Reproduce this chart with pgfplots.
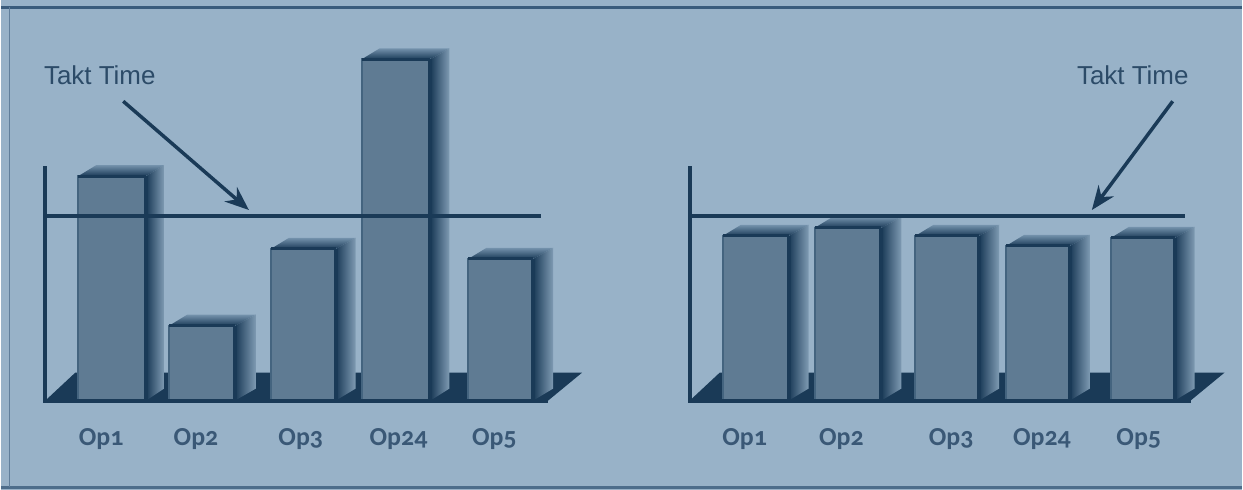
\documentclass[border=0pt]{standalone}
\usepackage{pgfplots}
\pgfplotsset{compat=1.18}
\usepackage{fontspec}
\setmainfont{Liberation Sans}
\newfontfamily\oplabel[Numbers=OldStyle]{Carlito}
\usetikzlibrary{arrows.meta}
\definecolor{panel}{HTML}{98B2C8}
\definecolor{navy}{HTML}{1A3A57}
\definecolor{face}{HTML}{5F7B93}
\definecolor{faceedge}{HTML}{44647F}
\definecolor{sidefade}{HTML}{7F9BB3}
\definecolor{topfade}{HTML}{7391AB}
\definecolor{labelink}{HTML}{3A5876}
\definecolor{calloutink}{HTML}{2C4B68}
\definecolor{frameline}{HTML}{3A5C7C}

% One column: x0 and x1 bound the front, xs is the rear edge of the side, h the height
\newcommand{\opbar}[4]{%
  \pgfmathsetmacro{\backh}{#4+11}%
  \pgfmathsetmacro{\backx}{#1+18}%
  \addplot[draw=none,bottom color=navy,top color=topfade] coordinates
    {(#1,#4) (\backx,\backh) (#3,\backh) (#2,#4)} --cycle;
  \addplot[draw=none,left color=navy,right color=sidefade] coordinates
    {(#2,0) (#2,#4) (#3,\backh) (#3,12)} --cycle;
  \addplot[draw=faceedge,line width=2pt,fill=face] coordinates
    {(#1,0) (#1,#4) (#2,#4) (#2,0)} --cycle;
  \addplot[navy,line width=4pt] coordinates {(#2,0) (#2,#4)};
  \addplot[navy,line width=3pt] coordinates {(#1,#4) (#2,#4)};
}

\begin{document}
\begin{tikzpicture}
\begin{axis}[
  scale only axis,
  width=1243pt, height=491pt,
  xmin=0, xmax=1243, ymin=-89.5, ymax=401.5,
  axis on top,
  axis line style={draw=none},
  major tick style={draw=none},
  ytick=\empty,
  xtick={100,195,300,398,494,745,842,952,1043,1140},
  xticklabels={Op1,Op2,Op3,Op24,Op5,Op1,Op2,Op3,Op24,Op5},
  xticklabel style={font=\oplabel\bfseries\fontsize{26}{28}\selectfont,
    text=labelink, anchor=center, yshift=51pt},
  clip=false,
]
% panel and frame
\addplot[draw=none,fill=panel] coordinates {(0,-89.5) (0,401.5) (1243,401.5) (1243,-89.5)} --cycle;
\addplot[frameline,line width=3pt] coordinates {(0,394) (1243,394)};
\addplot[frameline!80!panel,line width=2.5pt] coordinates {(0,-87) (1243,-87)};
\addplot[frameline!60!panel,line width=1.5pt] coordinates {(8,394) (8,-87)};

% floors
\addplot[draw=none,fill=navy] coordinates {(44,0) (74,28) (582,28) (548,0)} --cycle;
\addplot[draw=none,fill=navy] coordinates {(690,0) (720,28) (1226,28) (1192,0)} --cycle;

% left chart, uneven cycle times
\opbar{77}{145}{163}{225}
\opbar{168}{234}{255}{75}
\opbar{270}{335}{355}{152}
\opbar{361}{430}{449}{342}
\opbar{468}{533}{553}{142}

% right chart, balanced cycle times
\opbar{723}{789}{809}{165}
\opbar{815}{882}{902}{173}
\opbar{916}{980}{1000}{165}
\opbar{1007}{1071}{1091}{155}
\opbar{1112}{1176}{1196}{163}

% value axes and base lines
\addplot[navy,line width=4pt] coordinates {(44,235) (44,0) (548,0)};
\addplot[navy,line width=4pt] coordinates {(690,235) (690,0) (1192,0)};

% takt time level
\addplot[navy,line width=4pt] coordinates {(44,185) (541,185)};
\addplot[navy,line width=4pt] coordinates {(690,185) (1186,185)};

% callouts
\addplot[navy,line width=3.5pt,-{Stealth[length=24pt,width=19pt]}] coordinates {(122,300) (248,191)};
\addplot[navy,line width=3.5pt,-{Stealth[length=24pt,width=19pt]}] coordinates {(1174,300) (1093,191)};
\node[text=calloutink,font=\fontsize{26}{28}\selectfont,anchor=center] at (axis cs:98.5,326) {Takt Time};
\node[text=calloutink,font=\fontsize{26}{28}\selectfont,anchor=center] at (axis cs:1134,326) {Takt Time};
\end{axis}
\end{tikzpicture}
\end{document}
